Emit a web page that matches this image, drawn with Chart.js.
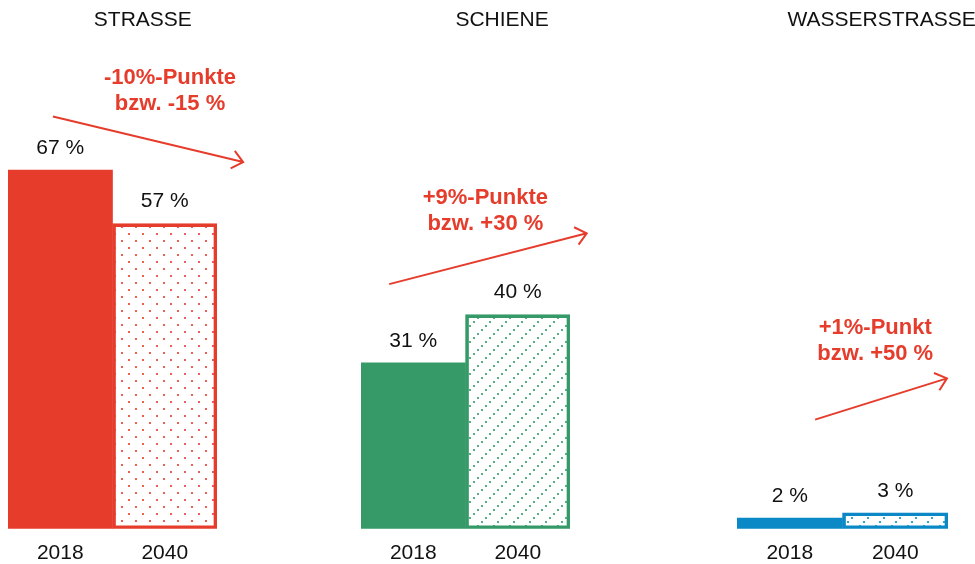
<!DOCTYPE html>
<html>
<head>
<meta charset="utf-8">
<script src="https://cdn.jsdelivr.net/npm/chart.js@4.4.1/dist/chart.umd.min.js"></script>
<style>
  html, body { margin: 0; padding: 0; background: #fff; }
  #wrap { position: relative; width: 975px; height: 564px; overflow: hidden; }
  #wrap canvas { position: absolute; top: 0; }
</style>
</head>
<body>
<div id="wrap">
  <canvas id="c0" width="300" height="572" style="left:0px"></canvas>
  <canvas id="c1" width="350" height="572" style="left:300px"></canvas>
  <canvas id="c2" width="325" height="572" style="left:650px"></canvas>
</div>
<script>
// data
const years = ['2018', '2040'];
const strasse = [67, 57];
const schiene = [31, 40];
const wasser = [2, 3];
const titles = ['STRASSE', 'SCHIENE', 'WASSERSTRASSE'];
const notes = [
    ['-10%-Punkte', 'bzw. -15 %'],
    ['+9%-Punkte', 'bzw. +30 %'],
    ['+1%-Punkt', 'bzw. +50 %']
];

const RED = '#e63c2c', GREEN = '#359a67', BLUE = '#0a89c6';
const FONT = '"Liberation Sans", Arial, sans-serif';

// fill patterns for the 2040 bars
function dotPattern(color) {
    const c = document.createElement('canvas');
    c.width = 14; c.height = 14;
    const g = c.getContext('2d');
    g.fillStyle = color;
    [[3, 10], [10, 3]].forEach(p => { g.beginPath(); g.arc(p[0], p[1], 1.1, 0, Math.PI * 2); g.fill(); });
    return g.createPattern(c, 'repeat');
}
function diagPattern(color) {
    const c = document.createElement('canvas');
    c.width = 16; c.height = 16;
    const g = c.getContext('2d');
    g.fillStyle = color;
    [[2, 14], [6, 10], [10, 6], [14, 2]].forEach(p => { g.beginPath(); g.arc(p[0], p[1], 1.1, 0, Math.PI * 2); g.fill(); });
    return g.createPattern(c, 'repeat');
}

// titles, value labels, arrows, notes
const extras = {
    id: 'extras',
    afterDatasetsDraw(chart, args, o) {
        const ctx = chart.ctx, xs = chart.scales.x, ys = chart.scales.y;
        const vals = chart.data.datasets[0].data;
        ctx.save();
        ctx.textAlign = 'center';
        ctx.textBaseline = 'middle';
        ctx.fillStyle = '#111';
        ctx.font = '21px ' + FONT;
        ctx.fillText(o.title, xs.getPixelForValue(o.titleX), 20);
        chart.getDatasetMeta(0).data.forEach((bar, i) => {
            ctx.fillText(vals[i] + ' %', bar.x, bar.y - 22);
        });
        // arrow
        const x1 = xs.getPixelForValue(o.from[0]), y1 = ys.getPixelForValue(o.from[1]);
        const x2 = xs.getPixelForValue(o.to[0]), y2 = ys.getPixelForValue(o.to[1]);
        const a = Math.atan2(y2 - y1, x2 - x1);
        ctx.strokeStyle = RED;
        ctx.lineWidth = 2;
        ctx.beginPath();
        ctx.moveTo(x1, y1); ctx.lineTo(x2, y2);
        ctx.moveTo(x2 - 14 * Math.cos(a - 0.7), y2 - 14 * Math.sin(a - 0.7));
        ctx.lineTo(x2, y2);
        ctx.lineTo(x2 - 14 * Math.cos(a + 0.7), y2 - 14 * Math.sin(a + 0.7));
        ctx.stroke();
        // note
        ctx.fillStyle = RED;
        ctx.font = 'bold 22px ' + FONT;
        const nx = xs.getPixelForValue(o.noteAt[0]), ny = ys.getPixelForValue(o.noteAt[1]);
        o.note.forEach((t, i) => ctx.fillText(t, nx, ny + i * 26));
        ctx.restore();
    }
};

function makeChart(id, values, color, pattern, pad, opts) {
    return new Chart(document.getElementById(id), {
        type: 'bar',
        data: {
            labels: years,
            datasets: [{
                data: values,
                backgroundColor: [color, pattern],
                borderColor: color,
                borderWidth: [0, 3],
                borderSkipped: false,
                barPercentage: 1,
                categoryPercentage: 1
            }]
        },
        options: {
            responsive: false,
            animation: false,
            layout: { padding: { left: pad[0], right: pad[1], top: 47, bottom: 2 } },
            scales: {
                x: {
                    grid: { display: false },
                    border: { display: false },
                    ticks: { color: '#111', font: { size: 21, family: FONT }, padding: 4 }
                },
                y: { display: false, min: 0, max: 90 }
            },
            plugins: {
                legend: { display: false },
                tooltip: { enabled: false },
                extras: opts
            }
        },
        plugins: [extras]
    });
}

makeChart('c0', strasse, RED, dotPattern(RED), [8, 83], {
    title: titles[0], titleX: 0.79, note: notes[0], noteAt: [1.05, 84.3],
    from: [-0.07, 77.0], to: [1.75, 68.5]
});
makeChart('c1', schiene, GREEN, diagPattern(GREEN), [61, 80], {
    title: titles[1], titleX: 0.85, note: notes[1], noteAt: [0.69, 61.8],
    from: [-0.23, 45.7], to: [1.66, 55.2]
});
makeChart('c2', wasser, BLUE, diagPattern(BLUE), [87, 27], {
    title: titles[2], titleX: 0.87, note: notes[2], noteAt: [0.81, 37.6],
    from: [0.24, 20.4], to: [1.49, 28.1]
});
</script>
</body>
</html>
